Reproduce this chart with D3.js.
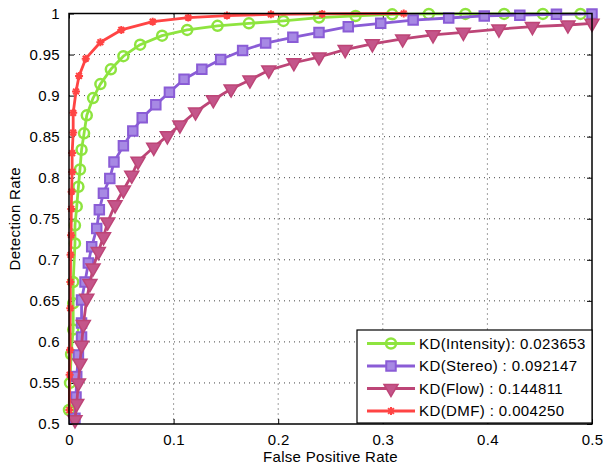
<!DOCTYPE html>
<html>
<head>
<meta charset="utf-8">
<script src="https://cdn.jsdelivr.net/npm/d3@7"></script>
<style>
  body { margin: 0; background: #fff; }
  svg { display: block; font-family: "Liberation Sans", Arial, sans-serif; }
</style>
</head>
<body>
<div id="viz"></div>
<script>
// data
const dmfX = [0.0003, 0.0006, 0.001, 0.0012, 0.0013, 0.0015, 0.002, 0.0022, 0.0025, 0.003, 0.003, 0.004, 0.004, 0.0067, 0.0096, 0.016, 0.030, 0.050, 0.080, 0.114, 0.151, 0.193, 0.242, 0.32];
const dmfY = [0.517, 0.56, 0.59, 0.641, 0.673, 0.706, 0.730, 0.762, 0.783, 0.807, 0.830, 0.855, 0.879, 0.905, 0.924, 0.945, 0.965, 0.980, 0.990, 0.995, 0.9975, 0.999, 0.9995, 1.0];

const intensityX = [0, 0.001, 0.002, 0.004, 0.004, 0.004, 0.0057, 0.0057, 0.0074, 0.009, 0.0105, 0.012, 0.0144, 0.017, 0.023, 0.030, 0.040, 0.052, 0.068, 0.089, 0.113, 0.142, 0.172, 0.205, 0.239, 0.274, 0.309, 0.344, 0.379, 0.416, 0.453, 0.489];
const intensityY = [0.517, 0.550, 0.585, 0.615, 0.647, 0.673, 0.720, 0.742, 0.765, 0.789, 0.810, 0.834, 0.854, 0.876, 0.897, 0.914, 0.932, 0.948, 0.962, 0.973, 0.980, 0.985, 0.988, 0.991, 0.995, 0.997, 0.999, 0.9995, 0.9995, 0.9995, 0.9995, 0.9995];

const stereoX = [0.0057, 0.0067, 0.0074, 0.009, 0.012, 0.012, 0.012, 0.0153, 0.0185, 0.0217, 0.0265, 0.029, 0.0329, 0.039, 0.043, 0.052, 0.061, 0.070, 0.083, 0.096, 0.110, 0.127, 0.145, 0.166, 0.188, 0.214, 0.239, 0.267, 0.298, 0.329, 0.363, 0.397, 0.431, 0.466, 0.5];
const stereoY = [0.507, 0.533, 0.558, 0.584, 0.606, 0.623, 0.651, 0.673, 0.696, 0.716, 0.738, 0.761, 0.781, 0.799, 0.819, 0.839, 0.857, 0.873, 0.889, 0.904, 0.920, 0.932, 0.944, 0.955, 0.964, 0.971, 0.977, 0.984, 0.988, 0.992, 0.9945, 0.997, 0.998, 0.999, 0.9995];

const flowX = [0.0057, 0.0074, 0.009, 0.0105, 0.012, 0.0137, 0.017, 0.020, 0.023, 0.028, 0.033, 0.037, 0.044, 0.052, 0.060, 0.066, 0.081, 0.094, 0.106, 0.121, 0.138, 0.155, 0.173, 0.191, 0.215, 0.239, 0.264, 0.290, 0.319, 0.348, 0.377, 0.411, 0.443, 0.477, 0.5];
const flowY = [0.505, 0.525, 0.550, 0.574, 0.596, 0.621, 0.653, 0.671, 0.690, 0.710, 0.728, 0.746, 0.767, 0.785, 0.803, 0.820, 0.837, 0.851, 0.864, 0.880, 0.895, 0.908, 0.919, 0.931, 0.940, 0.947, 0.956, 0.963, 0.969, 0.974, 0.977, 0.981, 0.984, 0.986, 0.988];

const legendLabels = ["KD(Intensity): 0.023653", "KD(Stereo) : 0.092147", "KD(Flow) : 0.144811", "KD(DMF) : 0.004250"];
const xTicks = [0, 0.1, 0.2, 0.3, 0.4, 0.5];
const yTicks = [0.5, 0.55, 0.6, 0.65, 0.7, 0.75, 0.8, 0.85, 0.9, 0.95, 1];

const series = [
  { name: legendLabels[0], xs: intensityX, ys: intensityY, color: "#8ee43f", marker: "circle" },
  { name: legendLabels[1], xs: stereoX, ys: stereoY, color: "#8a5cd6", marker: "square" },
  { name: legendLabels[2], xs: flowX, ys: flowY, color: "#bd4577", marker: "triangle" },
  { name: legendLabels[3], xs: dmfX, ys: dmfY, color: "#ff4444", marker: "star" }
];

const W = 603, H = 468;
const margin = { top: 13.5, right: 11, bottom: 44, left: 69 };
const width = W - margin.left - margin.right;
const height = H - margin.top - margin.bottom;

const svg = d3.select("#viz").append("svg")
  .attr("width", W)
  .attr("height", H);

const g = svg.append("g")
  .attr("transform", `translate(${margin.left},${margin.top})`);

const x = d3.scaleLinear().domain([0, 0.5]).range([0, width]);
const y = d3.scaleLinear().domain([0.5, 1]).range([height, 0]);

// dotted grid
g.selectAll(".gx")
  .data(xTicks.slice(1, -1))
  .join("line")
  .attr("x1", d => x(d)).attr("x2", d => x(d))
  .attr("y1", 0).attr("y2", height)
  .style("stroke", "#444")
  .style("stroke-width", 1)
  .style("stroke-dasharray", "1,4");

g.selectAll(".gy")
  .data(yTicks.slice(1, -1))
  .join("line")
  .attr("x1", 0).attr("x2", width)
  .attr("y1", d => y(d)).attr("y2", d => y(d))
  .style("stroke", "#444")
  .style("stroke-width", 1)
  .style("stroke-dasharray", "1,4");

// axes with inward ticks
const xAxis = d3.axisBottom(x).tickValues(xTicks).tickSize(-5).tickPadding(10).tickFormat(d3.format("~g"));
const yAxis = d3.axisLeft(y).tickValues(yTicks).tickSize(-5).tickPadding(9).tickFormat(d3.format("~g"));

const gx = g.append("g").attr("transform", `translate(0,${height})`).call(xAxis);
const gy = g.append("g").call(yAxis);
g.append("g").call(d3.axisTop(x).tickValues(xTicks).tickSize(-5).tickFormat(""));
g.append("g").attr("transform", `translate(${width},0)`).call(d3.axisRight(y).tickValues(yTicks).tickSize(-5).tickFormat(""));

g.selectAll(".domain").remove();
g.selectAll(".tick line").style("stroke", "#000");
[gx, gy].forEach(a => a.selectAll("text")
  .style("font-size", "15px")
  .style("letter-spacing", "0.3px")
  .style("fill", "#000")
  .style("font-family", "Liberation Sans, Arial, sans-serif"));

// curves
const line = d3.line().x(d => x(d[0])).y(d => y(d[1]));

function drawMarker(sel, type, color) {
  if (type === "circle") {
    sel.append("circle").attr("r", 5)
      .style("fill", "none").style("stroke", color).style("stroke-width", 2.5);
  } else if (type === "square") {
    sel.append("path").attr("d", d3.symbol(d3.symbolSquare, 90)())
      .style("fill", "#a789e4").style("stroke", color).style("stroke-width", 2);
  } else if (type === "triangle") {
    sel.append("path").attr("d", d3.symbol(d3.symbolTriangle, 85)())
      .attr("transform", "rotate(180)")
      .style("fill", "#c4558a").style("stroke", color).style("stroke-width", 1.5);
  } else {
    const r = 4, s = r * 0.72;
    sel.append("path")
      .attr("d", `M${-r},0L${r},0M0,${-r}L0,${r}M${-s},${-s}L${s},${s}M${-s},${s}L${s},${-s}`)
      .style("fill", "none").style("stroke", color).style("stroke-width", 2);
  }
}

series.forEach(s => {
  const pts = s.xs.map((v, i) => [v, s.ys[i]]);
  g.append("path")
    .datum(pts)
    .attr("d", line)
    .style("fill", "none")
    .style("stroke", s.color)
    .style("stroke-width", 2.8)
    .style("stroke-linejoin", "round");

  g.append("g").selectAll("g")
    .data(pts)
    .join("g")
    .attr("transform", d => `translate(${x(d[0])},${y(d[1])})`)
    .each(function() { drawMarker(d3.select(this), s.marker, s.color); });
});

// box
g.append("rect")
  .attr("width", width).attr("height", height)
  .style("fill", "none").style("stroke", "#000").style("stroke-width", 1.5);

// axis titles
svg.append("text")
  .attr("x", margin.left + width / 2)
  .attr("y", H - 6)
  .attr("text-anchor", "middle")
  .style("font-size", "15px")
  .style("letter-spacing", "0.3px")
  .text("False Positive Rate");

svg.append("text")
  .attr("transform", `translate(20,${margin.top + height / 2}) rotate(-90)`)
  .attr("text-anchor", "middle")
  .style("font-size", "15px")
  .style("letter-spacing", "0.3px")
  .text("Detection Rate");

// legend
const lg = svg.append("g").attr("transform", "translate(357,330)");
lg.append("rect")
  .attr("width", 235).attr("height", 93)
  .style("fill", "#fff").style("stroke", "#000").style("stroke-width", 1.2);

series.forEach((s, i) => {
  const row = lg.append("g").attr("transform", `translate(0,${13.5 + i * 22.5})`);
  row.append("line")
    .attr("x1", 10).attr("x2", 58)
    .style("stroke", s.color).style("stroke-width", 2.8);
  const m = row.append("g").attr("transform", "translate(34,0)");
  drawMarker(m, s.marker, s.color);
  row.append("text")
    .attr("x", 62).attr("dy", "0.35em")
    .style("font-size", "15px")
    .style("letter-spacing", "0.4px")
    .text(s.name);
});
</script>
</body>
</html>
